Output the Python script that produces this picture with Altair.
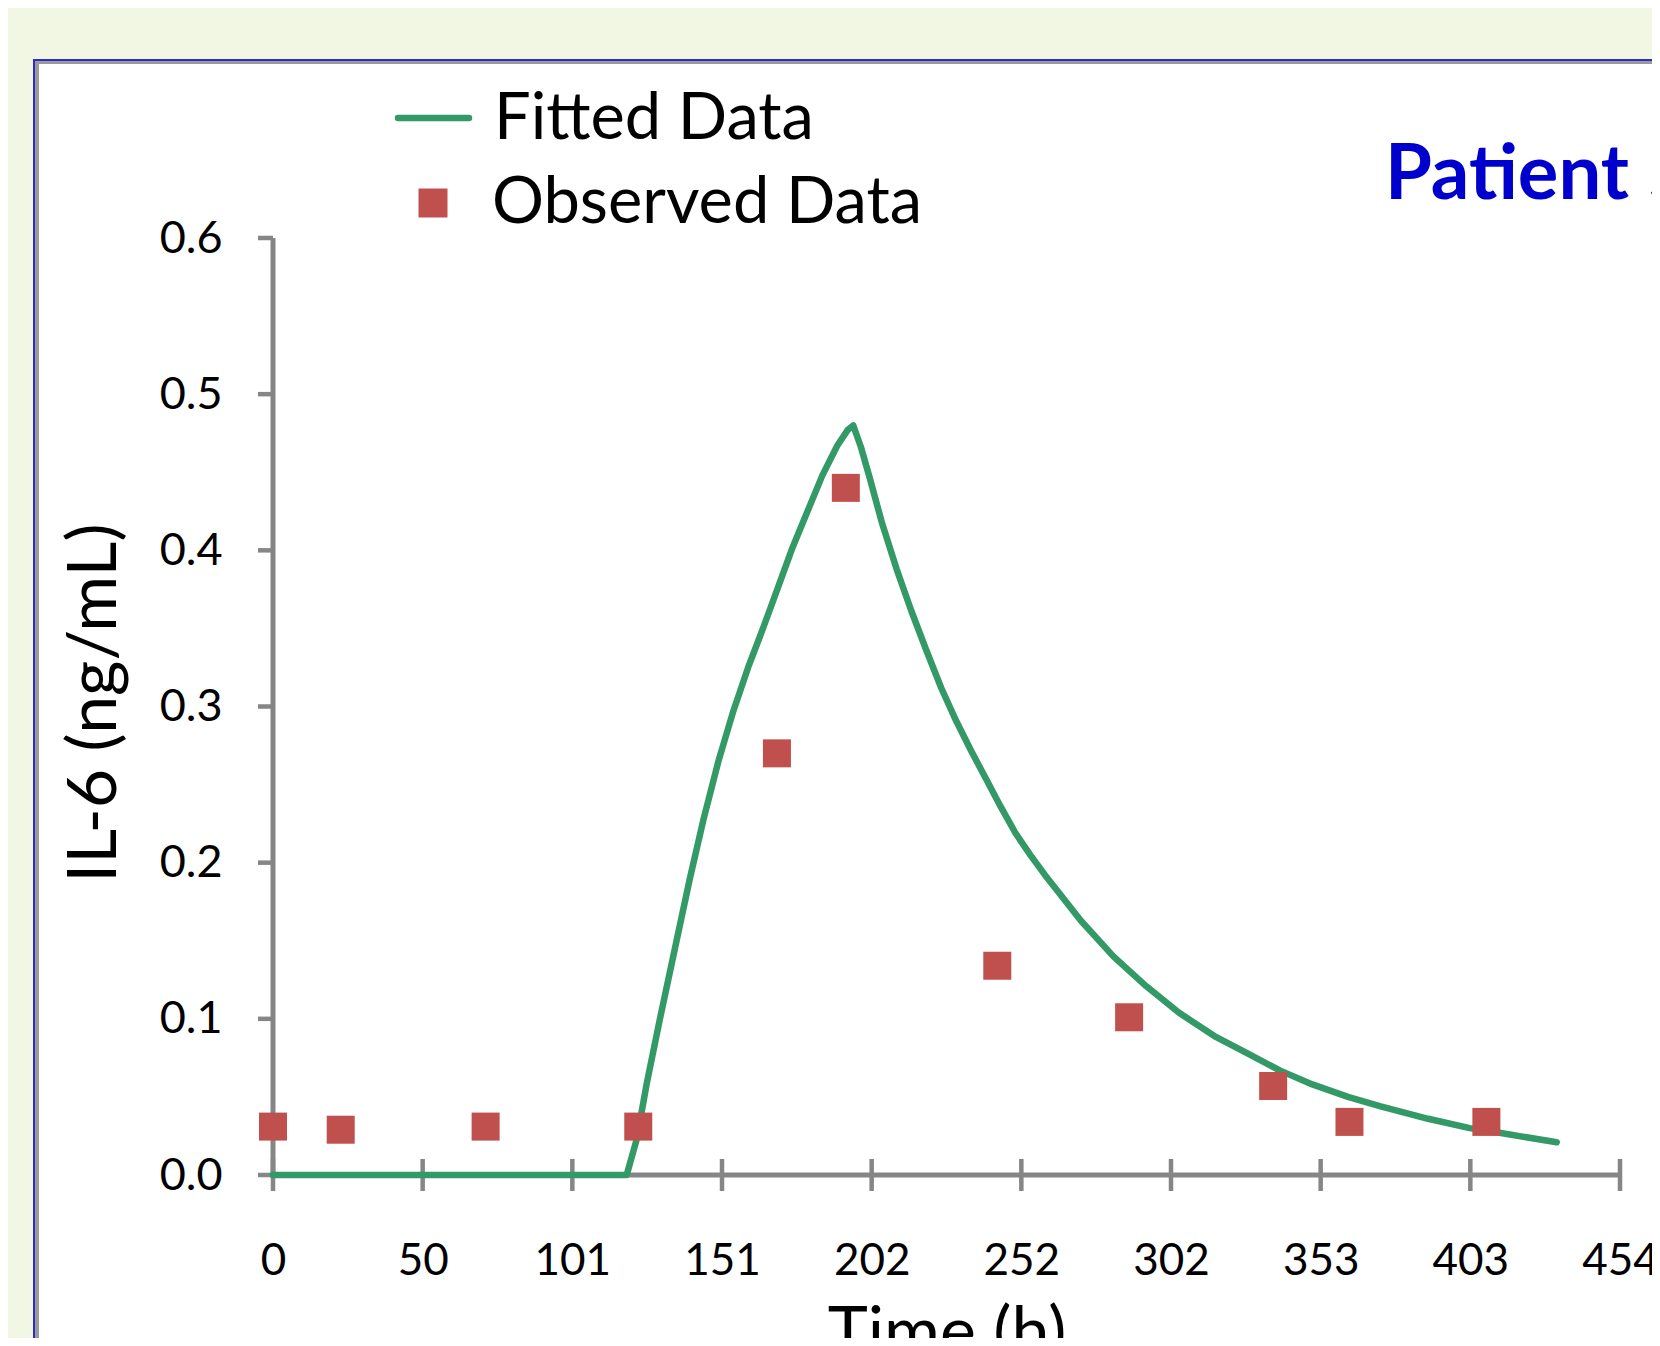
import json
import altair as alt
import pandas as pd

# ---- data ----
fit_time = [0, 119.1, 122.5, 125.8, 130.3, 135.9, 140.4, 145.0, 150.0, 155.0, 160.0,
            165.0, 170.0, 175.0, 180.0, 185.0, 190.0, 193.5, 195.4, 198.0, 201.0, 205.0,
            210.0, 215.0, 220.0, 225.0, 230.0, 235.0, 240.0, 245.0, 250.0, 255.0, 260.0,
            265.0, 272.0, 283.0, 294.0, 305.0, 317.0, 328.0, 339.0, 350.0, 362.0, 373.0,
            389.0, 403.0, 413.0, 432.3]
fit_il6 = [0, 0, 0.023, 0.058, 0.100, 0.150, 0.190, 0.228, 0.265, 0.297, 0.325,
           0.350, 0.376, 0.402, 0.425, 0.448, 0.467, 0.477, 0.480, 0.466, 0.446, 0.418,
           0.388, 0.361, 0.336, 0.312, 0.291, 0.272, 0.254, 0.236, 0.219, 0.205, 0.192,
           0.180, 0.163, 0.140, 0.121, 0.104, 0.089, 0.078, 0.067, 0.058, 0.050, 0.044,
           0.036, 0.030, 0.027, 0.021]
obs_time = [0, 22.8, 71.6, 123.0, 169.7, 192.9, 243.9, 288.3, 336.8, 362.5, 408.6]
obs_il6 = [0.031, 0.029, 0.031, 0.031, 0.270, 0.440, 0.134, 0.101, 0.057, 0.034, 0.034]

series_names = ["Fitted Data", "Observed Data"]
series_colors = ["#339966", "#C0504D"]
x_ticks = [0, 50.4, 100.8, 151.2, 201.6, 252.0, 302.4, 352.8, 403.2, 453.6]
x_tick_labels = ["0", "50", "101", "151", "202", "252", "302", "353", "403", "454"]
y_ticks = [0, 0.1, 0.2, 0.3, 0.4, 0.5, 0.6]
x_title = "Time (h)"
y_title = "IL-6 (ng/mL)"
panel_title = "Patient 5"

W, H = 1347, 937
PAD = {"left": 265, "top": 230, "right": 32, "bottom": 163}
AXIS_GRAY = "#868686"
FONT = "Lato"

fit_df = pd.DataFrame({"t": fit_time, "v": fit_il6})
obs_df = pd.DataFrame({"t": obs_time, "v": obs_il6})

xscale = alt.Scale(domain=[x_ticks[0], x_ticks[-1]], nice=False, zero=False)
yscale = alt.Scale(domain=[y_ticks[0], y_ticks[-1]], nice=False)

step = x_ticks[1]
x_axis = alt.Axis(
    values=x_ticks, labelExpr=f"{json.dumps(x_tick_labels)}[round(datum.value / {step})]",
    domain=False, ticks=False, tickSize=0, grid=False, labelPadding=64,
    labelFlush=False, labelOverlap=False, labelFont=FONT, labelFontSize=44,
    labelColor="black", labelBaseline="top",
    title=x_title, titleFont=FONT, titleFontSize=68, titleFontWeight="normal",
    titleColor="black", titleX=W / 2, titleY=179, titleBaseline="alphabetic",
    titleAlign="center", zindex=1,
)
y_axis = alt.Axis(
    values=y_ticks, format=".1f", domain=False, ticks=False, tickSize=0, grid=False,
    labelPadding=51, labelFont=FONT, labelFontSize=45, labelColor="black",
    labelBaseline="middle",
    title=y_title, titleFont=FONT, titleFontSize=68, titleFontWeight="normal",
    titleColor="black", titleX=-158, titleY=H / 2 - 4, titleBaseline="alphabetic",
    titleAlign="center", zindex=1,
)

one = pd.DataFrame({"k": [0]})


def panel_rect(color, x0, y0):
    return alt.Chart(one).mark_rect(color=color).encode(
        x=alt.value(x0), x2=alt.value(W + PAD["right"]),
        y=alt.value(y0), y2=alt.value(H + PAD["bottom"])
    )


blue = panel_rect("#2B2BD0", -240, -179)
gray = panel_rect("#9A9A9A", -238, -177)
white = panel_rect("white", -234, -174)

xline = alt.Chart(pd.DataFrame({"a": [x_ticks[0]], "b": [x_ticks[-1]], "y": [0]})).mark_rule(
    color=AXIS_GRAY, strokeWidth=5).encode(
    x=alt.X("a:Q", scale=xscale, axis=x_axis), x2="b:Q", y=alt.Y("y:Q", scale=yscale, axis=y_axis))
yline = alt.Chart(pd.DataFrame({"x": [0], "a": [y_ticks[0]], "b": [y_ticks[-1]]})).mark_rule(
    color=AXIS_GRAY, strokeWidth=5).encode(
    x=alt.X("x:Q", scale=xscale), y=alt.Y("a:Q", scale=yscale), y2="b:Q")
xtick = alt.Chart(pd.DataFrame({"t": x_ticks})).mark_rule(
    color=AXIS_GRAY, strokeWidth=4.5).encode(
    x=alt.X("t:Q", scale=xscale), y=alt.value(H - 16), y2=alt.value(H + 16))
ytick = alt.Chart(pd.DataFrame({"v": y_ticks})).mark_rule(
    color=AXIS_GRAY, strokeWidth=4.5).encode(
    y=alt.Y("v:Q", scale=yscale), x=alt.value(-15), x2=alt.value(0))

line = alt.Chart(fit_df).mark_line(
    color=series_colors[0], strokeWidth=6.5, strokeJoin="round", strokeCap="round").encode(
    x=alt.X("t:Q", scale=xscale), y=alt.Y("v:Q", scale=yscale))
pts = alt.Chart(obs_df).mark_square(
    color=series_colors[1], size=784, opacity=1, filled=True).encode(
    x=alt.X("t:Q", scale=xscale), y=alt.Y("v:Q", scale=yscale))

# legend (drawn by hand, positioned in pixels above the plot area)
leg_line = alt.Chart(one).mark_rule(
    color=series_colors[0], strokeWidth=6.5, strokeCap="round").encode(
    x=alt.value(125), x2=alt.value(196), y=alt.value(-120))
leg_sq = alt.Chart(one).mark_square(
    color=series_colors[1], size=841, opacity=1, filled=True).encode(
    x=alt.value(160), y=alt.value(-35))
leg_t1 = alt.Chart(pd.DataFrame({"label": [series_names[0]]})).mark_text(
    align="left", baseline="alphabetic", font=FONT, fontSize=65, color="black").encode(
    text="label:N", x=alt.value(221), y=alt.value(-99))
leg_t2 = alt.Chart(pd.DataFrame({"label": [series_names[1]]})).mark_text(
    align="left", baseline="alphabetic", font=FONT, fontSize=65, color="black").encode(
    text="label:N", x=alt.value(219), y=alt.value(-15))

title = alt.Chart(pd.DataFrame({"label": [panel_title]})).mark_text(
    align="left", baseline="alphabetic", font=FONT, fontSize=76, fontWeight="bold",
    color="#0000CC").encode(text="label:N", x=alt.value(1112), y=alt.value(-39))

chart = alt.layer(blue, gray, white, xline, yline, xtick, ytick, line, pts,
                  leg_line, leg_sq, leg_t1, leg_t2, title).properties(
    width=W, height=H,
    autosize=alt.AutoSizeParams(type="none"),
    padding=PAD,
    background="#F2F7E3",
).configure_view(stroke=None)

chart.save("out.html", embed_options={"renderer": "svg", "actions": False})
